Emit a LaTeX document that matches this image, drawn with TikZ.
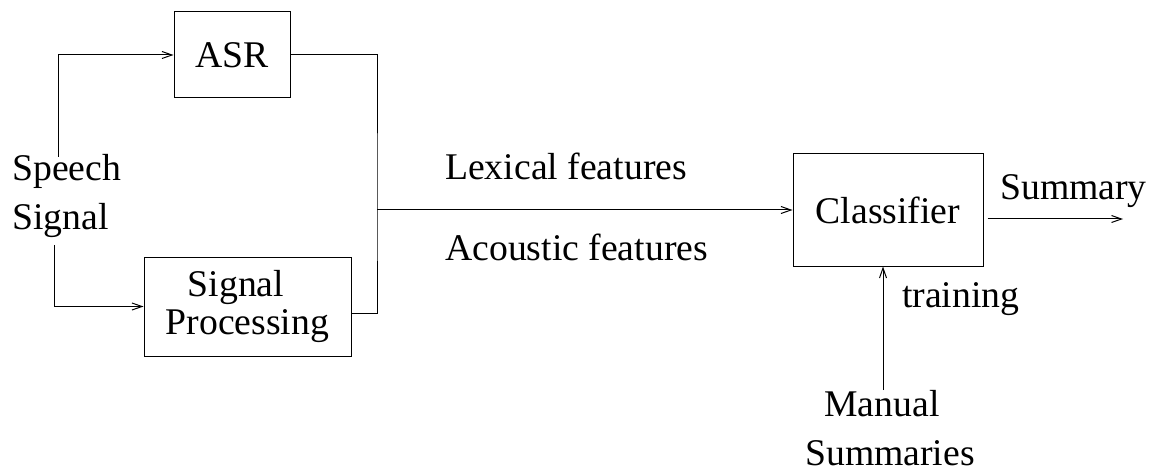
\documentclass[tikz,border=0pt]{standalone}
\usepackage{fontspec}
\setmainfont{Liberation Serif}
\usetikzlibrary{arrows.meta}
\begin{document}
\begin{tikzpicture}[x=1pt,y=-1pt,
  font=\fontsize{37.7}{49}\selectfont,
  box/.style={draw, line width=1pt, inner sep=0pt},
  lbl/.style={inner sep=0pt},
  wire/.style={line width=1pt},
  arr/.style={-{Straight Barb[length=10pt,width=7pt]}}]
\useasboundingbox (0,0) rectangle (1158,470);
% boxes
\node[box, minimum width=116pt, minimum height=86pt] (asr) at (232,55) {ASR};
\node[box, minimum width=207pt, minimum height=99pt, align=center,
      font=\fontsize{37.7}{38}\selectfont] (sp) at (247.5,306.5) {Signal\hspace*{23pt}\\Processing};
\node[box, minimum width=190pt, minimum height=112pt] (cls) at (888,210) {Classifier};
% labels
\node[lbl, anchor=west, align=left] (speech) at (12,195.8) {Speech\\Signal};
\node[lbl, anchor=base west] (lex) at (445,180) {Lexical features};
\node[lbl, anchor=base west] (aco) at (445,261) {Acoustic features};
\node[lbl, anchor=base west] (sum) at (1000,200) {Summary};
\node[lbl, anchor=base west] (trn) at (902,307) {training};
\node[lbl, align=center] (man) at (890,428) {Manual\hspace*{16pt}\\Summaries};
% connectors
\coordinate (s1) at (58,157);
\coordinate (s2) at (54,245);
\coordinate (j) at (377,210);
\coordinate (sumend) at (1123,219);
\coordinate (m) at (883,390);
\draw[wire,arr] (s1) |- (asr.west);
\draw[wire,arr] (s2) |- (sp.west);
\draw[wire] (asr.east) -| (j) |- ([yshift=-6.5pt]sp.east);
\draw[wire,arr] (j) -- (cls.west);
\draw[wire,arr] ([xshift=4pt,yshift=-9pt]cls.east) -- (sumend);
\draw[wire,arr] (m) -- (m |- cls.south);
\end{tikzpicture}
\end{document}
